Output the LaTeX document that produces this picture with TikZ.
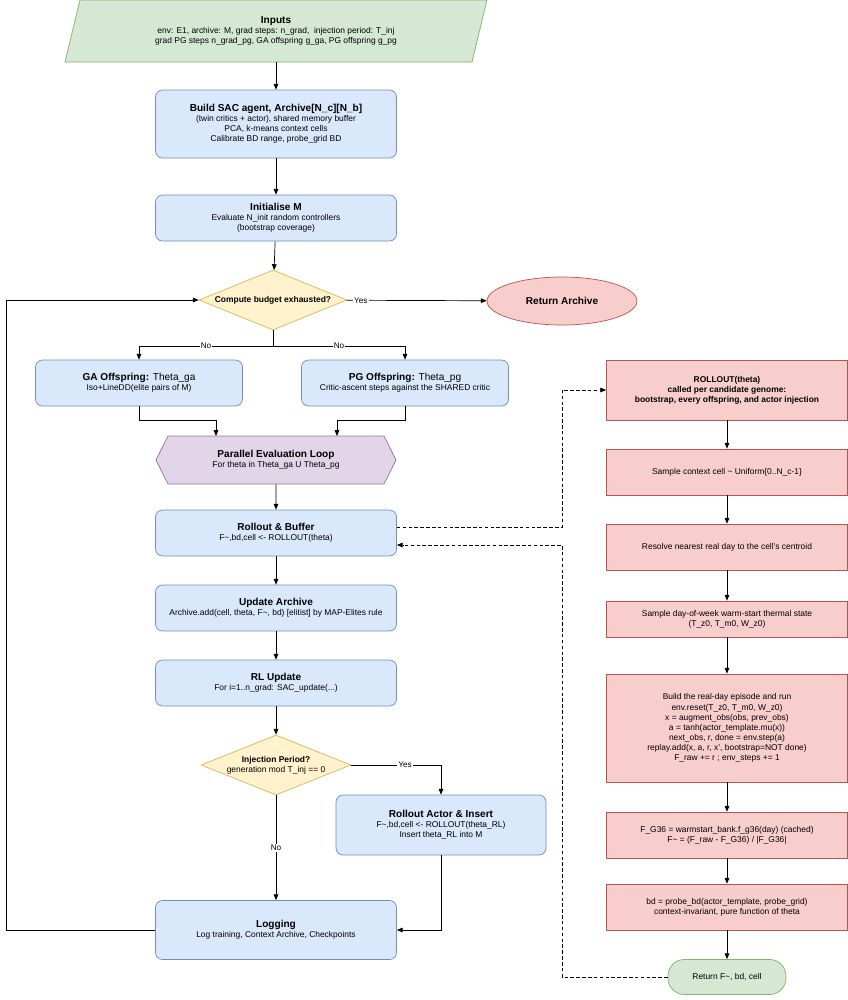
\documentclass[tikz,border=0pt]{standalone}
\usepackage{fontspec}
\setmainfont{Liberation Sans}
\usetikzlibrary{shapes.geometric,shapes.symbols,arrows.meta}
\def\pxu{0.03cm}
\begin{document}
\begin{tikzpicture}[
    x=0.03cm, y=-0.03cm,
    >={Triangle[length=5pt,width=4pt]},
    base/.style = {draw, line width=0.6pt, align=center, inner sep=2pt,
        font=\fontsize{7.2}{8.6}\selectfont},
    bluebox/.style = {base, rounded corners=6pt, fill=blue!12!cyan!8, draw=blue!45!gray,
        fill={rgb,255:red,218;green,232;blue,252}, draw={rgb,255:red,108;green,142;blue,191},
        minimum width={241*\pxu}, minimum height={46*\pxu}},
    redbox/.style = {base, fill={rgb,255:red,248;green,206;blue,204}, draw={rgb,255:red,184;green,84;blue,80},
        minimum width={241*\pxu}, minimum height={46*\pxu}},
    decision/.style = {base, diamond, aspect=2.5, inner sep=0pt,
        fill={rgb,255:red,255;green,242;blue,204}, draw={rgb,255:red,214;green,182;blue,86}},
    title/.style = {font=\fontsize{8.6}{10}\selectfont\bfseries},
    flow/.style = {->, line width=0.6pt},
    dashflow/.style = {->, line width=0.6pt, densely dashed},
    lbl/.style = {fill=white, inner sep=1pt, font=\fontsize{7}{8}\selectfont}
]
\useasboundingbox (0,0) rectangle (848,1000);

% inputs
\draw[line width=0.6pt, fill={rgb,255:red,213;green,232;blue,212}, draw={rgb,255:red,130;green,179;blue,102}]
    (80,0) -- (487,0) -- (472,62) -- (65,62) -- cycle;
\node[base, draw=none] (inputs) at (276,31) {{\fontsize{8.6}{10}\selectfont\bfseries Inputs}\\
    env: E1, archive: M, grad steps: n\_grad,\ \ injection period: T\_inj\\
    grad PG steps n\_grad\_pg, GA offspring g\_ga, PG offspring g\_pg};
\coordinate (inbot) at (276,62);

% main column
\node[bluebox, minimum height={68*\pxu}] (build) at (276,124) {{\fontsize{8.6}{10}\selectfont\bfseries Build SAC agent, Archive[N\_c][N\_b]}\\
    (twin critics + actor), shared memory buffer\\ PCA, k-means context cells\\ Calibrate BD range, probe\_grid BD};
\node[bluebox] (init) at (276,218) {{\fontsize{8.6}{10}\selectfont\bfseries Initialise M}\\
    Evaluate N\_init random controllers\\ (bootstrap coverage)};
\node[decision, minimum width={148*\pxu}, minimum height={60*\pxu}] (budget) at (273,300) {\bfseries Compute budget exhausted?};
\node[base, ellipse, minimum width={150*\pxu}, minimum height={48*\pxu},
    fill={rgb,255:red,248;green,206;blue,204}, draw={rgb,255:red,184;green,84;blue,80}] (ret) at (562,301)
    {\fontsize{8.6}{10}\selectfont\bfseries Return Archive};
\node[bluebox, minimum width={207*\pxu}] (ga) at (139,383) {{\fontsize{8.6}{10}\selectfont\textbf{GA Offspring:} Theta\_ga}\\ Iso+LineDD(elite pairs of M)};
\node[bluebox, minimum width={207*\pxu}] (pg) at (405,383) {{\fontsize{8.6}{10}\selectfont\textbf{PG Offspring:} Theta\_pg}\\ Critic-ascent steps against the SHARED critic};
\node[base, signal, signal to=west and east, signal pointer angle=127,
    minimum width={240*\pxu}, minimum height={48*\pxu},
    fill={rgb,255:red,225;green,213;blue,231}, draw={rgb,255:red,150;green,115;blue,166}] (par) at (276,460)
    {{\fontsize{8.6}{10}\selectfont\bfseries Parallel Evaluation Loop}\\ For theta in Theta\_ga U Theta\_pg};
\node[bluebox] (rb) at (276,533) {{\fontsize{8.6}{10}\selectfont\bfseries Rollout \& Buffer}\\ F\textasciitilde,bd,cell <- ROLLOUT(theta)};
\node[bluebox] (upd) at (276,608) {{\fontsize{8.6}{10}\selectfont\bfseries Update Archive}\\ Archive.add(cell, theta, F\textasciitilde, bd) [elitist] by MAP-Elites rule};
\node[bluebox] (rl) at (276,683) {{\fontsize{8.6}{10}\selectfont\bfseries RL Update}\\ For i=1..n\_grad: SAC\_update(...)};
\node[decision, minimum width={150*\pxu}, minimum height={60*\pxu}] (inj) at (276,765) {\textbf{Injection Period?}\\ generation mod T\_inj == 0};
\node[bluebox, minimum width={210*\pxu}, minimum height={60*\pxu}] (actor) at (441,825) {{\fontsize{8.6}{10}\selectfont\bfseries Rollout Actor \& Insert}\\
    F\textasciitilde,bd,cell <- ROLLOUT(theta\_RL)\\ Insert theta\_RL into M};
\node[bluebox, minimum height={59*\pxu}] (log) at (276,930) {{\fontsize{8.6}{10}\selectfont\bfseries Logging}\\ Log training, Context Archive, Checkpoints};

% rollout column
\node[redbox, minimum height={60*\pxu}] (ro) at (727,390) {\bfseries ROLLOUT(theta)\\ \bfseries called per candidate genome:\\ \bfseries bootstrap, every offspring, and actor injection};
\node[redbox] (ctx) at (727,472) {Sample context cell \textasciitilde{} Uniform\{0..N\_c-1\}};
\node[redbox] (day) at (727,547) {Resolve nearest real day to the cell's centroid};
\node[redbox, minimum height={36*\pxu}] (warm) at (727,619) {Sample day-of-week warm-start thermal state\\ (T\_z0, T\_m0, W\_z0)};
\node[redbox, minimum height={108*\pxu}] (ep) at (727,728) {Build the real-day episode and run\\ env.reset(T\_z0, T\_m0, W\_z0)\\
    x = augment\_obs(obs, prev\_obs)\\ a = tanh(actor\_template.mu(x))\\ next\_obs, r, done = env.step(a)\\
    replay.add(x, a, r, x', bootstrap=NOT done)\\ F\_raw += r ; env\_steps += 1};
\node[redbox] (fg) at (727,835) {F\_G36 = warmstart\_bank.f\_g36(day) (cached)\\ F\textasciitilde{} = (F\_raw - F\_G36) / |F\_G36|};
\node[redbox] (bd) at (727,907) {bd = probe\_bd(actor\_template, probe\_grid)\\ context-invariant, pure function of theta};
\node[base, rounded corners=14pt, minimum width={118*\pxu}, minimum height={35*\pxu},
    fill={rgb,255:red,213;green,232;blue,212}, draw={rgb,255:red,130;green,179;blue,102}] (rf) at (727,977) {Return F\textasciitilde, bd, cell};

% connectors
\draw[flow] (inbot) -- (build);
\draw[flow] (build) -- (init);
\draw[flow] (init) -- (budget);
\draw[flow] (budget) -- node[lbl, pos=0.1] {Yes} (ret);
\draw[flow] (budget.south) -- (273,346) -| node[lbl, pos=0.25] {No} (ga.north);
\draw[flow] (budget.south) -- (273,346) -| node[lbl, pos=0.25] {No} (pg.north);
\draw[flow] (ga.south) -- (139,420) -| (216,436);
\draw[flow] (pg.south) -- (405,420) -| (337,436);
\draw[flow] (par) -- (rb);
\draw[flow] (rb) -- (upd);
\draw[flow] (upd) -- (rl);
\draw[flow] (rl) -- (inj);
\draw[flow] (inj.east) -| node[lbl, pos=0.3] {Yes} (actor.north);
\draw[flow] (inj.south) -- node[lbl] {No} (log.north);
\draw[flow] (actor.south) |- (log.east);
\draw[flow] (log.west) -- (6,930) |- (budget.west);
\draw[dashflow] (rb.east |- 0,527) -- (562,527) |- (ro.west);
\draw[dashflow] (rf.west) -| (562,545) -- (rb.east |- 0,545);
\draw[flow] (ro) -- (ctx);
\draw[flow] (ctx) -- (day);
\draw[flow] (day) -- (warm);
\draw[flow] (warm) -- (ep);
\draw[flow] (ep) -- (fg);
\draw[flow] (fg) -- (bd);
\draw[flow] (bd) -- (rf);
\end{tikzpicture}
\end{document}
